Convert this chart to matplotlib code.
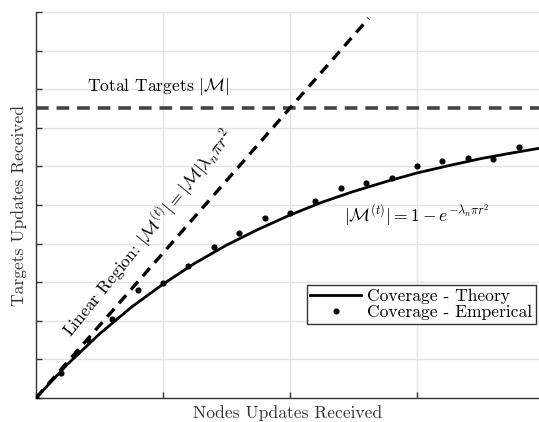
import matplotlib
matplotlib.use("Agg")
import matplotlib.pyplot as plt

plt.rcParams["font.family"] = "serif"
plt.rcParams["font.serif"] = ["cmr10", "DejaVu Serif"]
plt.rcParams["mathtext.fontset"] = "cm"
plt.rcParams["axes.unicode_minus"] = False
plt.rcParams["axes.formatter.use_mathtext"] = True

# Theoretical coverage curve
theory_x = [0.0, 0.25, 0.5, 0.75, 1.0, 1.25, 1.5, 1.75, 2.0, 2.25, 2.5, 2.75,
            3.0, 3.25, 3.5, 3.75, 4.0]
theory_y = [0.0, 0.88, 1.66, 2.35, 2.95, 3.49, 3.96, 4.37, 4.74, 5.07, 5.35,
            5.60, 5.83, 6.02, 6.20, 6.35, 6.49]

# Empirical coverage samples
emp_x = [0.0, 0.2, 0.32, 0.41, 0.6, 0.8, 1.0, 1.2, 1.4, 1.6, 1.8, 2.0, 2.2,
         2.4, 2.6, 2.8, 3.0, 3.2, 3.4, 3.6, 3.8]
emp_y = [0.0, 0.64, 1.18, 1.51, 2.05, 2.81, 2.97, 3.42, 3.90, 4.28, 4.67,
         4.80, 5.10, 5.44, 5.58, 5.69, 6.01, 6.13, 6.23, 6.18, 6.49]

# Linear-region approximation and total target count
linear_x = [0.0, 2.62]
linear_y = [0.0, 9.84]
total_targets = 7.5

FS = 12.6

fig = plt.figure(figsize=(5.39, 4.22), dpi=100)
ax = fig.add_axes([0.0668, 0.0569, 0.9332, 0.9147])

ax.set_xlim(0, 3.96)
ax.set_ylim(0, 10)
ax.set_xticks([0, 1, 2, 3])
ax.set_yticks(range(0, 11))
ax.set_xticklabels([])
ax.set_yticklabels([])
ax.grid(True, color="#e3e3e3", linewidth=1.0)
ax.set_axisbelow(True)
for side in ("top", "right"):
    ax.spines[side].set_visible(False)
for side in ("left", "bottom"):
    ax.spines[side].set_color("#333333")
    ax.spines[side].set_linewidth(1.0)
ax.tick_params(direction="in", length=4, color="#333333", width=1.0)

ax.axhline(total_targets, color="#444444", linestyle=(0, (3.5, 2.2)),
           linewidth=2.6, zorder=2)
ax.plot(linear_x, linear_y, color="black", linestyle=(0, (3.2, 2.2)),
        linewidth=2.4, zorder=3)
ax.plot(theory_x, theory_y, color="black", linewidth=2.0, zorder=4,
        label="Coverage - Theory")
ax.plot(emp_x, emp_y, linestyle="none", marker="o", markersize=3.4,
        color="black", zorder=5, label="Coverage - Emperical")

ax.text(0.96, 8.08, r"Total Targets $|\mathcal{M}|$", fontsize=FS,
        ha="center", va="center")
ax.text(0.88, 4.28,
        r"Linear Region: $|\mathcal{M}^{(t)}| = |\mathcal{M}|\lambda_n\pi r^2$",
        fontsize=FS, rotation=51, rotation_mode="anchor",
        ha="center", va="center")
ax.text(3.0, 4.74, r"$|\mathcal{M}^{(t)}| = 1 - e^{-\lambda_n \pi r^2}$",
        fontsize=FS, ha="center", va="center")

ax.set_xlabel("Nodes Updates Received", fontsize=FS, color="#333333",
              labelpad=2)
ax.set_ylabel("Targets Updates Received", fontsize=FS, color="#333333",
              labelpad=3)

leg = ax.legend(loc="lower right", bbox_to_anchor=(0.994, 0.192),
                fontsize=FS, fancybox=False, framealpha=1,
                edgecolor="#333333", handlelength=2.9, handletextpad=0.35,
                borderpad=0.2, labelspacing=0.05, borderaxespad=0)
leg.get_frame().set_linewidth(1.0)

fig.savefig("out.png", dpi=100)
